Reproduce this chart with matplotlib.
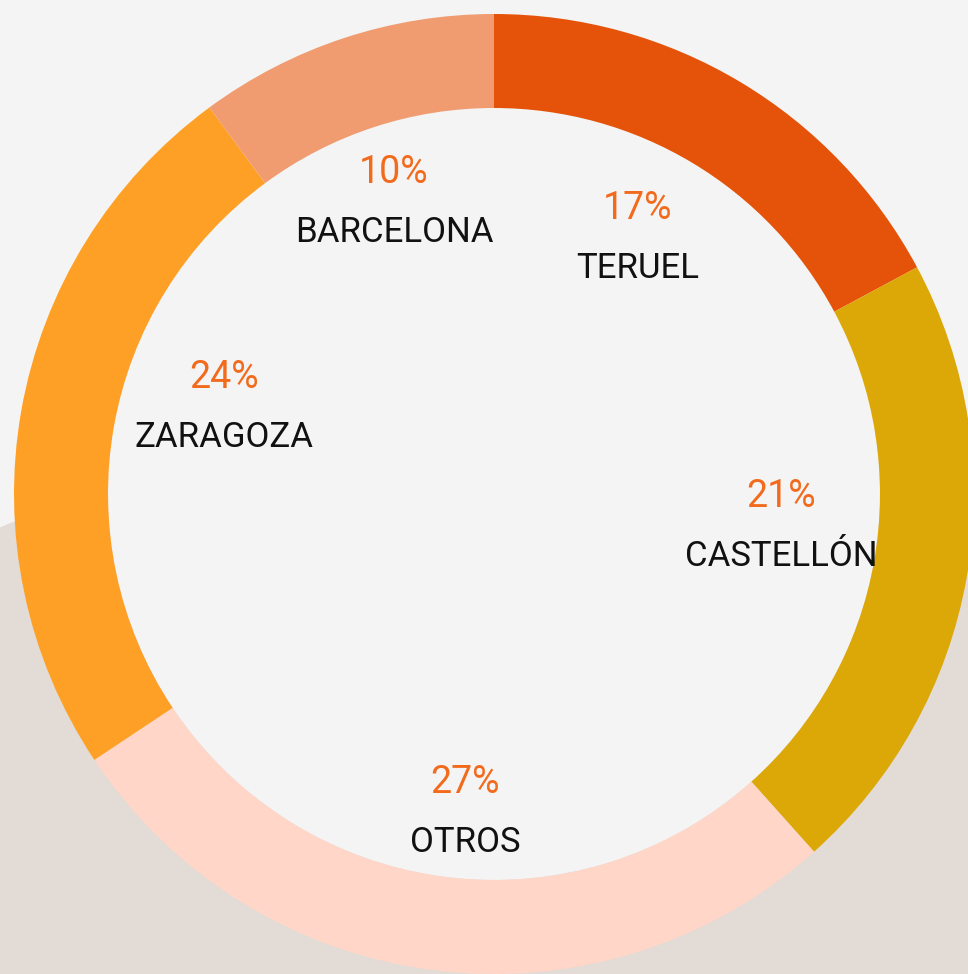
import matplotlib
matplotlib.use("Agg")
import matplotlib.pyplot as plt
from matplotlib.patches import Circle

# Share of origin by province (percent), clockwise from the top
regions = ["TERUEL", "CASTELLÓN", "OTROS", "ZARAGOZA", "BARCELONA"]
shares = [17, 21, 27, 24, 10]
colors = ["#E5530A", "#DCA808", "#FFD6C7", "#FFA026", "#F09C70"]

# Label anchor points (x, baseline of percent text) in figure pixels, y measured from top
label_x = [638, 781, 465, 224, 394]
pct_baseline = [219, 507, 793, 388, 183]

W, H = 968, 974
BG = "#F4F4F4"
BEIGE = "#E3DBD5"
PCT_COLOR = "#F26B1D"

fig = plt.figure(figsize=(W / 100, H / 100), dpi=100, facecolor=BG)
ax = fig.add_axes([0, 0, 1, 1])
ax.set_facecolor(BG)

# Large soft backdrop disc in the lower part
ax.add_patch(Circle((590, H - 1900), 1494, facecolor=BEIGE, edgecolor="none", zorder=0))

cx, cy = 494, H - 494
outer_r, ring_w = 480, 94

ax.pie(shares, colors=colors, startangle=90, counterclock=False,
       radius=outer_r, center=(cx, cy),
       wedgeprops=dict(width=ring_w, linewidth=0, zorder=2))

# Fill the hole of the ring with the page colour
ax.add_patch(Circle((cx, cy), outer_r - ring_w, facecolor=BG, edgecolor="none", zorder=1))

for name, val, x, yb in zip(regions, shares, label_x, pct_baseline):
    ax.text(x, H - yb, f"{val}%", ha="center", va="baseline",
            fontsize=27, fontfamily="Roboto", fontweight="normal",
            color=PCT_COLOR, zorder=5)
    ax.text(x, H - (yb + 59), name, ha="center", va="baseline",
            fontsize=25, fontfamily="Roboto", fontweight="normal",
            color="#111111", zorder=5)

ax.set_xlim(0, W)
ax.set_ylim(0, H)
ax.set_aspect("auto")
ax.axis("off")

fig.savefig("out.png", dpi=100, facecolor=BG)
